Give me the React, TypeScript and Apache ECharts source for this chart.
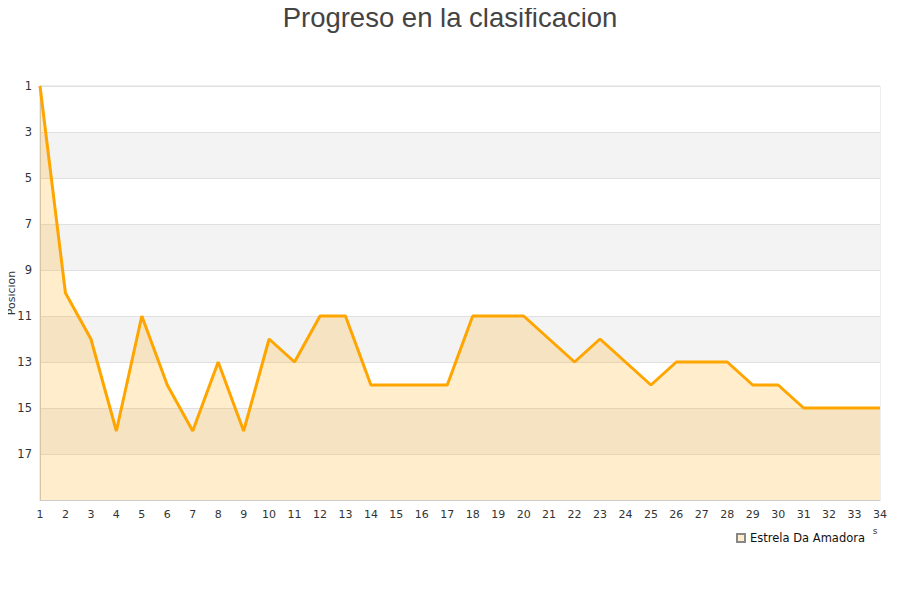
import React, { useEffect, useRef } from "react";
import * as echarts from "echarts";

const rounds = Array.from({ length: 34 }, (_, i) => String(i + 1));
const positions = [1, 10, 12, 16, 11, 14, 16, 13, 16, 12, 13, 11, 11, 14, 14, 14, 14, 11, 11, 11, 12, 13, 12, 13, 14, 13, 13, 13, 14, 14, 15, 15, 15, 15];
const teamName = "Estrela Da Amadora";
const titleText = "Progreso en la clasificacion";
const yAxisName = "Posicion";

export default function App() {
  const ref = useRef<HTMLDivElement>(null);
  useEffect(() => {
    const chart = echarts.init(ref.current!, null, { renderer: "svg" });
    chart.setOption({
      animation: false,
      title: {
        text: titleText,
        left: "center",
        top: -2,
        textStyle: { fontFamily: "Liberation Sans", fontSize: 27.5, fontWeight: "normal", color: "#444" },
      },
      graphic: [
        {
          type: "text",
          x: 11,
          y: 293,
          rotation: Math.PI / 2,
          style: {
            text: yAxisName,
            fontFamily: "DejaVu Sans",
            fontSize: 11,
            fill: "#333",
            align: "center",
            verticalAlign: "middle",
          },
        },
        {
          type: "text",
          x: 875,
          y: 531,
          style: {
            text: "s",
            fontFamily: "DejaVu Sans",
            fontSize: 9,
            fill: "#333",
            align: "center",
            verticalAlign: "middle",
          },
        },
      ],
      grid: {
        left: 40,
        right: 20,
        top: 86,
        bottom: 100,
        show: true,
        borderColor: "#ddd",
        borderWidth: 1,
        containLabel: false,
        outerBoundsMode: "none",
      },
      legend: {
        data: [teamName],
        right: 30,
        top: 527,
        icon: "rect",
        itemWidth: 8,
        itemHeight: 8,
        itemGap: 6,
        textStyle: { fontFamily: "DejaVu Sans", fontSize: 11.5, color: "#111" },
      },
      xAxis: {
        type: "category",
        data: rounds,
        boundaryGap: false,
        axisLine: { lineStyle: { color: "#ccc" } },
        axisTick: { show: false },
        axisLabel: { color: "#333", fontFamily: "DejaVu Sans", fontSize: 11, margin: 9, interval: 0 },
        splitLine: { show: false },
      },
      yAxis: {
        type: "value",
        inverse: true,
        min: 1,
        max: 19,
        interval: 2,
        axisLine: { show: true, lineStyle: { color: "#ccc" } },
        axisTick: { show: false },
        axisLabel: {
          color: "#333",
          fontFamily: "DejaVu Sans",
          fontSize: 11.5,
          margin: 8,
          formatter: (v: number) => (v === 19 ? "" : String(v)),
        },
        splitLine: { show: true, lineStyle: { color: "#e0e0e0" } },
        splitArea: { show: true, areaStyle: { color: ["#ffffff", "#f3f3f3"] } },
      },
      series: [
        {
          name: teamName,
          type: "line",
          data: positions,
          symbol: "none",
          lineStyle: { color: "#ffa500", width: 3 },
          itemStyle: { color: "#ffedcc", borderColor: "#888", borderWidth: 1 },
          areaStyle: { color: "rgba(255,165,0,0.2)", opacity: 1, origin: "end" },
        },
      ],
    });
    return () => chart.dispose();
  }, []);
  return <div ref={ref} style={{ width: 900, height: 600, marginLeft: -8, marginTop: -8 }} />;
}
